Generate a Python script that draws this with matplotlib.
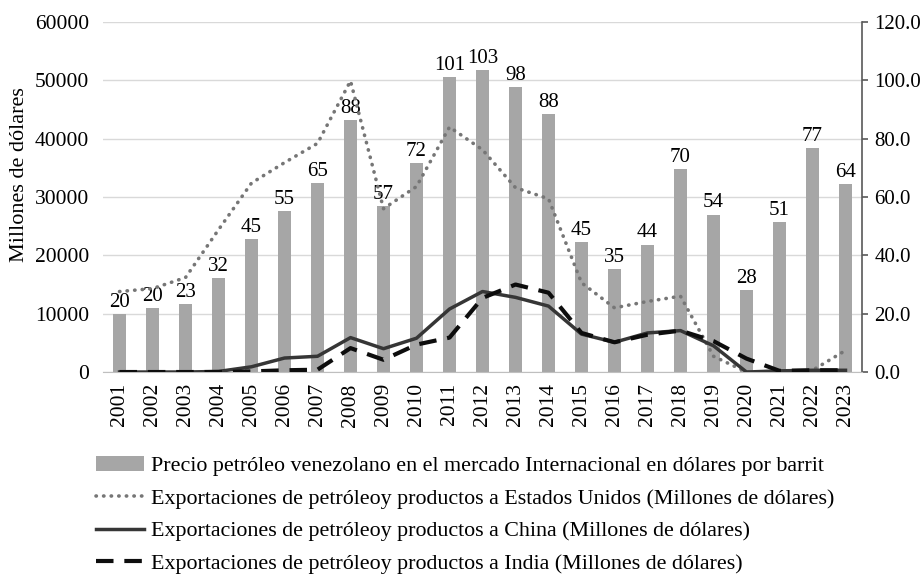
import numpy as np
import matplotlib
matplotlib.use("Agg")
from matplotlib import pyplot as plt
from matplotlib.patches import Patch
from matplotlib.lines import Line2D

plt.rcParams['font.family'] = ['Liberation Serif', 'DejaVu Serif']

# data
years = [str(y) for y in range(2001, 2024)]
precio = [20.0, 21.9, 23.4, 32.2, 45.6, 55.2, 64.7, 86.4, 57.0, 71.7, 101.0,
          103.4, 97.8, 88.3, 44.7, 35.2, 43.7, 69.5, 54.0, 28.0, 51.5, 76.9, 64.3]
precio_labels = ['20', '20', '23', '32', '45', '55', '65', '88', '57', '72', '101',
                 '103', '98', '88', '45', '35', '44', '70', '54', '28', '51', '77', '64']
eeuu = [13800, 14300, 16200, 24400, 32400, 35900, 39200, 49900, 28000, 31800, 42000,
        38100, 31600, 29700, 15300, 11000, 12100, 13000, 2700, 0, 0, 300, 3700]
china = [0, 0, 0, 100, 900, 2400, 2700, 5900, 4000, 5800, 10800,
         13800, 12800, 11300, 6500, 5100, 6700, 7100, 4500, 0, 200, 300, 300]
india = [0, 0, 0, 0, 100, 300, 400, 4100, 2100, 4700, 5900,
         12700, 15000, 13600, 6700, 5100, 6400, 7100, 5300, 2300, 200, 300, 300]

legend_labels = [
    'Precio petróleo venezolano en el mercado Internacional en dólares por barrit',
    'Exportaciones de petróleoy productos a Estados Unidos (Millones de dólares)',
    'Exportaciones de petróleoy productos a China (Millones de dólares)',
    'Exportaciones de petróleoy productos a India (Millones de dólares)',
]

bar_color = '#a6a6a6'
us_style = dict(color='#767676', lw=2.6, linestyle=(0, (0.1, 2.0)),
                dash_capstyle='round')
cn_style = dict(color='#363636', lw=2.5, linestyle='-')
in_style = dict(color='#0d0d0d', lw=3.0, linestyle=(0, (4.2, 2.6)))

fig = plt.figure(figsize=(9.24, 5.75), dpi=100)
ax2 = fig.add_axes([0.1115, 0.353, 0.8214, 0.6087])
ax = ax2.twinx()
ax.set_zorder(ax2.get_zorder() + 1)
ax.patch.set_visible(False)

x = np.arange(len(years))

# bars on the right axis
ax2.bar(x, precio, width=0.4, color=bar_color, zorder=2)
for xi, v, lab in zip(x, precio, precio_labels):
    ax2.annotate(lab, (xi, v), xytext=(0, 1.5), textcoords='offset points',
                 ha='center', va='bottom', fontsize=15)
ax2.set_ylim(0, 120)
ax2.set_xlim(-0.5, len(years) - 0.5)
ax2.yaxis.tick_right()
ax2.set_yticks(np.arange(0, 121, 20))
ax2.set_yticklabels([f'{v:.1f}' for v in np.arange(0, 121, 20)])
ax2.tick_params(axis='y', direction='out', length=4, width=1.2, color='#595959',
                labelsize=15, pad=5)
ax2.grid(axis='y', color='#d9d9d9', lw=1)
ax2.set_axisbelow(True)
for s in ['left', 'top']:
    ax2.spines[s].set_visible(False)
ax2.spines['right'].set_color('#595959')
ax2.spines['right'].set_linewidth(1.2)
ax2.spines['bottom'].set_color('#bfbfbf')
ax2.set_xticks(x)
ax2.set_xticklabels(years, rotation=90, fontsize=15.5)
ax2.tick_params(axis='x', length=0, pad=8)

# lines on the left axis
ax.plot(x, eeuu, **us_style)
ax.plot(x, china, **cn_style)
ax.plot(x, india, **in_style)
ax.set_ylim(0, 60000)
ax.yaxis.tick_left()
ax.yaxis.set_label_position('left')
ax.set_yticks(np.arange(0, 60001, 10000))
ax.tick_params(axis='y', length=0, labelsize=15.5, pad=10)
ax.set_ylabel('Millones de dólares', fontsize=16)
ax.yaxis.set_label_coords(-0.098, 0.563)
for s in ax.spines.values():
    s.set_visible(False)

handles = [
    Patch(facecolor=bar_color, edgecolor='none'),
    Line2D([], [], **us_style),
    Line2D([], [], **cn_style),
    Line2D([], [], **in_style),
]
fig.legend(handles, legend_labels, loc='upper left',
           bbox_to_anchor=(96 / 924, 1 - 456 / 575), frameon=False,
           fontsize=15.8, handlelength=2.2, handletextpad=0.3,
           labelspacing=0.55, borderpad=0, borderaxespad=0)

fig.savefig('out.png', dpi=100)
